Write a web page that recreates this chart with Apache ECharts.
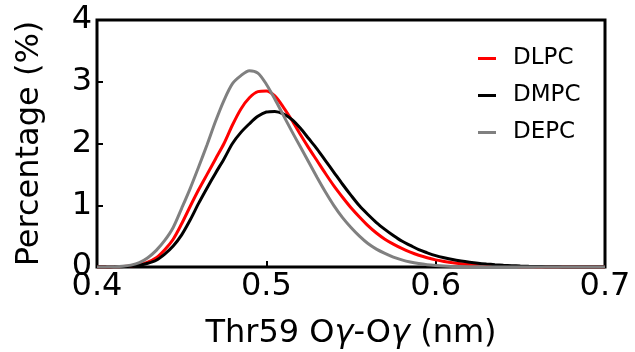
<!DOCTYPE html>
<html>
<head>
<meta charset="utf-8">
<script src="https://cdn.jsdelivr.net/npm/echarts@6/dist/echarts.min.js"></script>
<style>html,body{margin:0;padding:0;background:#fff;}#c{width:635px;height:352px;}</style>
</head>
<body>
<div id="c"></div>
<script>
const xValues = [0.400,0.405,0.410,0.415,0.420,0.425,0.430,0.435,0.440,0.445,0.450,0.455,0.460,0.465,0.470,0.475,0.480,0.485,0.490,0.495,0.500,0.505,0.510,0.515,0.520,0.525,0.530,0.535,0.540,0.545,0.550,0.555,0.560,0.565,0.570,0.575,0.580,0.585,0.590,0.595,0.600,0.605,0.610,0.615,0.620,0.625,0.630,0.635,0.640,0.645,0.650,0.655,0.660,0.665,0.670,0.675,0.680,0.685,0.690,0.695,0.700];
const dlpc = [0,0.001,0.003,0.007,0.015,0.04,0.08,0.15,0.28,0.45,0.70,0.98,1.25,1.50,1.75,2.00,2.30,2.56,2.74,2.84,2.85,2.77,2.59,2.38,2.15,1.93,1.72,1.51,1.31,1.13,0.96,0.81,0.67,0.55,0.45,0.37,0.30,0.24,0.19,0.15,0.115,0.09,0.068,0.052,0.04,0.03,0.022,0.016,0.011,0.008,0.005,0.003,0.002,0.001,0,0,0,0,0,0,0];
const dmpc = [0,0.001,0.003,0.006,0.012,0.03,0.06,0.11,0.21,0.34,0.52,0.76,1.03,1.28,1.52,1.75,2.00,2.18,2.32,2.44,2.51,2.52,2.48,2.39,2.25,2.08,1.91,1.72,1.53,1.34,1.16,0.99,0.85,0.72,0.61,0.51,0.42,0.35,0.28,0.23,0.185,0.15,0.12,0.097,0.078,0.062,0.049,0.038,0.029,0.022,0.016,0.011,0.008,0.005,0.003,0.002,0.001,0,0,0,0];
const depc = [0,0.002,0.005,0.012,0.03,0.07,0.15,0.27,0.43,0.64,0.95,1.27,1.62,1.98,2.36,2.70,2.97,3.10,3.18,3.14,2.96,2.72,2.46,2.20,1.95,1.70,1.45,1.21,0.99,0.80,0.64,0.50,0.38,0.29,0.22,0.16,0.115,0.08,0.055,0.037,0.025,0.016,0.01,0.007,0.005,0.003,0.002,0.001,0.001,0,0,0,0,0,0,0,0,0,0,0,0];
const seriesNames = ['DLPC','DMPC','DEPC'];
const seriesColors = ['#ff0000','#000000','#808080'];
const xTicks = [0.4,0.5,0.6,0.7];
const yTicks = [0,1,2,3,4];

const font = 'DejaVu Sans';
const pairs = arr => xValues.map((x,i)=>[x,arr[i]]);
const allData = [dlpc,dmpc,depc];

const chart = echarts.init(document.getElementById('c'), null, {renderer:'canvas'});
chart.setOption({
  animation:false,
  backgroundColor:'#fff',
  grid:{left:97,right:30,top:20,bottom:85,containLabel:false,outerBoundsMode:'none',show:true,borderColor:'#000',borderWidth:3,backgroundColor:'transparent'},
  legend:{
    orient:'vertical', left:473, top:41, icon:'rect', itemWidth:18, itemHeight:3, itemGap:12,
    data:seriesNames,
    textStyle:{fontFamily:font,fontSize:23,color:'#000',padding:[0,0,0,12],lineHeight:25}
  },
  xAxis:{
    type:'value', min:xTicks[0], max:xTicks[xTicks.length-1], interval:0.1,
    axisLine:{show:false},
    axisTick:{show:true,inside:true,length:6,lineStyle:{color:'#000',width:2}},
    splitLine:{show:false},
    axisLabel:{fontFamily:font,fontSize:32,color:'#000',margin:4,formatter:v=>v.toFixed(1)},
    name:'{a|Thr59 O}{g|γ}{a|-O}{g|γ}{a| (nm)}',
    nameLocation:'middle', nameGap:51,
    nameTextStyle:{rich:{a:{fontFamily:font,fontSize:32,color:'#000'},g:{fontFamily:font,fontSize:32,fontStyle:'italic',color:'#000'}}}
  },
  yAxis:{
    type:'value', min:yTicks[0], max:yTicks[yTicks.length-1], interval:1,
    axisLine:{show:false},
    axisTick:{show:true,inside:true,length:6,lineStyle:{color:'#000',width:2}},
    splitLine:{show:false},
    axisLabel:{fontFamily:font,fontSize:32,color:'#000',margin:5},
    name:'Percentage (%)', nameLocation:'middle', nameGap:51,
    nameTextStyle:{fontFamily:font,fontSize:32,color:'#000'}
  },
  series: seriesNames.map((n,i)=>({
    name:n, type:'line', data:pairs(allData[i]), showSymbol:false, symbol:'none',
    smooth:0.3, lineStyle:{color:seriesColors[i],width:3}, itemStyle:{color:seriesColors[i]}
  }))
});
</script>
</body>
</html>
